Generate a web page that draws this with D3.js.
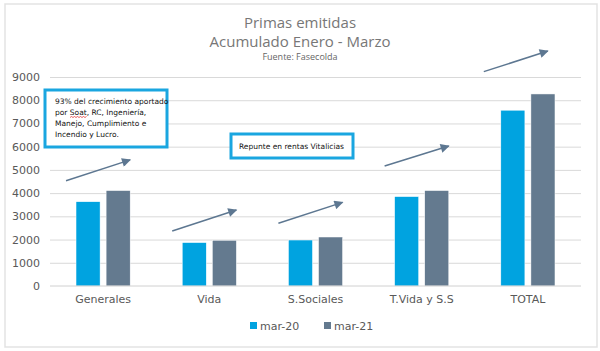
<!DOCTYPE html>
<html>
<head>
<meta charset="utf-8">
<script src="https://cdn.jsdelivr.net/npm/d3@7"></script>
<style>
  body { margin: 0; background: #fff; }
  svg { display: block; font-family: "Open Sans", "DejaVu Sans", sans-serif; }
  .grid line { stroke: #d9d9d9; }
  .grid path { display: none; }
  .axis-text text { fill: #595959; font-size: 11px; font-family: "DejaVu Sans", sans-serif; }
  .legend text { fill: #595959; font-size: 11px; font-family: "DejaVu Sans", sans-serif; }
</style>
</head>
<body>
<div id="chart"></div>
<script>
// --- DATA ---
const categories = ["Generales", "Vida", "S.Sociales", "T.Vida y S.S", "TOTAL"];
const seriesNames = ["mar-20", "mar-21"];
const mar20 = [3630, 1870, 1980, 3850, 7570];
const mar21 = [4110, 1970, 2110, 4110, 8270];
const yTicks = [0, 1000, 2000, 3000, 4000, 5000, 6000, 7000, 8000, 9000];
// pijlen: start- en eindwaarde per categorie (in waarde-eenheden)
const arrowFrom = [4530, 2370, 2700, 5170, 9230];
const arrowTo = [5430, 3270, 3600, 6030, 10120];

const colors = ["#00a3e0", "#647a8f"];

const W = 600, H = 351;
const margin = {top: 77, right: 19, bottom: 65, left: 50};
const width = W - margin.left - margin.right;
const height = H - margin.top - margin.bottom;

const root = d3.select("#chart").append("svg")
    .attr("width", W).attr("height", H);

// rand rondom
root.append("rect")
    .attr("x", 5).attr("y", 4).attr("width", 592).attr("height", 343)
    .attr("fill", "none").attr("stroke", "#e3e3e3").attr("stroke-width", 1.5);

// --- TITELS ---
root.append("text").attr("x", 300).attr("y", 28).attr("text-anchor", "middle")
    .attr("fill", "#777").style("font-size", "15px").text("Primas emitidas");
root.append("text").attr("x", 300).attr("y", 47).attr("text-anchor", "middle")
    .attr("fill", "#777").style("font-size", "15px").text("Acumulado Enero - Marzo");
root.append("text").attr("x", 300).attr("y", 60).attr("text-anchor", "middle")
    .attr("fill", "#666").style("font-size", "9px").text("Fuente: Fasecolda");

const svg = root.append("g").attr("transform", `translate(${margin.left},${margin.top})`);

const x0 = d3.scaleBand().domain(categories).range([0, width]).paddingInner(0.49).paddingOuter(0.245);
const x1 = d3.scaleBand().domain(seriesNames).range([0, x0.bandwidth()]).paddingInner(0.2);
const y = d3.scaleLinear().domain([0, 9000]).range([height, 0]);

// rasterlijnen
svg.append("g").attr("class", "grid")
    .call(d3.axisLeft(y).tickValues(yTicks.slice(1)).tickSize(-width).tickFormat(""));

// balken
const rows = categories.map((c, i) => ({cat: c, values: [mar20[i], mar21[i]]}));
const groups = svg.selectAll(".cat").data(rows).enter().append("g")
    .attr("transform", d => `translate(${x0(d.cat)},0)`);
groups.selectAll("rect").data(d => d.values.map((v, j) => ({s: seriesNames[j], v, j})))
    .enter().append("rect")
    .attr("x", d => x1(d.s))
    .attr("y", d => y(d.v))
    .attr("width", x1.bandwidth())
    .attr("height", d => height - y(d.v))
    .attr("fill", d => colors[d.j])
    .attr("stroke", "#fff").attr("stroke-width", 0.5);

// basislijn
svg.append("line").attr("x1", 0).attr("x2", width).attr("y1", height).attr("y2", height)
    .attr("stroke", "#d0d0d0");

// y-as labels
svg.append("g").attr("class", "axis-text")
    .call(d3.axisLeft(y).tickValues(yTicks).tickFormat(d3.format("d")).tickSize(0).tickPadding(10))
    .call(g => g.select(".domain").remove());

// x-as labels
svg.append("g").attr("class", "axis-text")
    .attr("transform", `translate(0,${height})`)
    .call(d3.axisBottom(x0).tickSize(0).tickPadding(9))
    .call(g => g.select(".domain").remove());

// --- PIJLEN ---
root.append("defs").append("marker")
    .attr("id", "arrow").attr("viewBox", "0 0 10 10").attr("refX", 9).attr("refY", 5)
    .attr("markerWidth", 12).attr("markerHeight", 9).attr("orient", "auto")
    .attr("markerUnits", "userSpaceOnUse")
    .append("path").attr("d", "M0,0 L10,5 L0,10 Z").attr("fill", "#5d7791");

categories.forEach((c, i) => {
    const xs = x0(c) - (i === 4 ? 17 : 10);
    const xe = x0(c) + (i === 4 ? 47 : x0.bandwidth());
    svg.append("line")
        .attr("x1", xs).attr("y1", y(arrowFrom[i]))
        .attr("x2", xe).attr("y2", y(arrowTo[i]))
        .attr("stroke", "#5d7791").attr("stroke-width", 1.5)
        .attr("marker-end", "url(#arrow)");
});

// --- TEKSTVAKKEN ---
const box1 = root.append("g");
box1.append("rect").attr("x", 45).attr("y", 90).attr("width", 122).attr("height", 57)
    .attr("fill", "#fff").attr("stroke", "#1aa6e0").attr("stroke-width", 3);
const lines1 = ["93% del crecimiento aportado", "por Soat, RC, Ingeniería,", "Manejo, Cumplimiento e", "Incendio y Lucro."];
box1.selectAll("text").data(lines1).enter().append("text")
    .attr("x", 55).attr("y", (d, i) => 104 + i * 11)
    .attr("fill", "#111").style("font-size", "7.5px")
    .style("font-family", "'DejaVu Sans', sans-serif")
    .text(d => d);
// rode kronkel onder "Soat"
box1.append("path")
    .attr("d", "M70,117.5 l1.5,-1 l1.5,1 l1.5,-1 l1.5,1 l1.5,-1 l1.5,1 l1.5,-1 l1.5,1 l1.5,-1 l1.5,1 l1.5,-1")
    .attr("fill", "none").attr("stroke", "#e02020").attr("stroke-width", 0.7);

const box2 = root.append("g");
box2.append("rect").attr("x", 231).attr("y", 134).attr("width", 122).attr("height", 24)
    .attr("fill", "#fff").attr("stroke", "#1aa6e0").attr("stroke-width", 3);
box2.append("text").attr("x", 239).attr("y", 149)
    .attr("fill", "#111").style("font-size", "7.5px")
    .style("font-family", "'DejaVu Sans', sans-serif")
    .text("Repunte en rentas Vitalicias");

// --- LEGENDA ---
const legend = root.append("g").attr("class", "legend").attr("transform", "translate(250,326)");
const lx = [0, 74];
seriesNames.forEach((s, i) => {
    legend.append("rect").attr("x", lx[i]).attr("y", -4).attr("width", 7).attr("height", 7)
        .attr("fill", colors[i]);
    legend.append("text").attr("x", lx[i] + 10).attr("y", 4).text(s);
});
</script>
</body>
</html>
